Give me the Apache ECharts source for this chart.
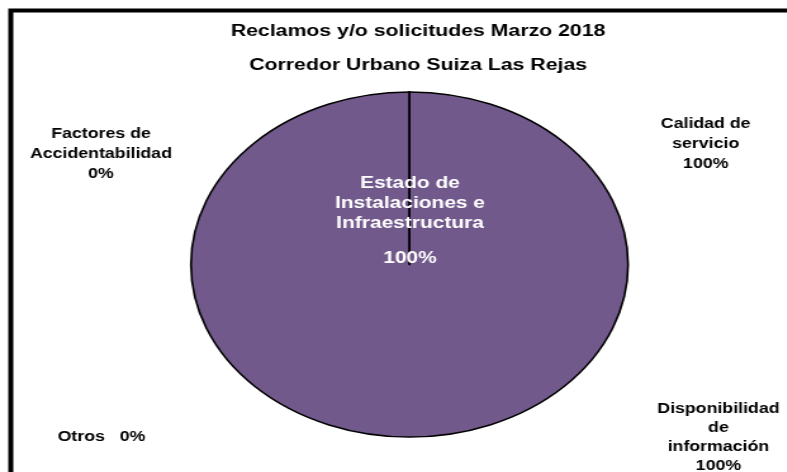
<!DOCTYPE html>
<html>
<head>
<meta charset="utf-8">
<script src="https://cdn.jsdelivr.net/npm/echarts@6/dist/echarts.min.js"></script>
<style>
  body { margin: 0; background: #fff; overflow: hidden; }
  /* the Excel picture was stretched sideways: draw it narrow, then stretch the whole chart */
  #chart { position: absolute; left: 0; top: 0; width: 622px; height: 472px;
           transform: scaleX(1.267); transform-origin: 0 0; }
</style>
</head>
<body>
<div id="chart"></div>
<script>
const titleText = 'Reclamos y/o solicitudes Marzo 2018';
const subtitleText = 'Corredor Urbano Suiza Las Rejas';
const categories = ['Calidad de servicio', 'Disponibilidad de información',
    'Estado de Instalaciones e Infraestructura', 'Factores de Accidentabilidad', 'Otros'];
const values = [0, 0, 100, 0, 0];
const pctLabels = ['100%', '100%', '100%', '0%', '0%'];
// label lines as Excel wrapped them
const labelLines = [
    ['Calidad de', 'servicio'],
    ['Disponibilidad', 'de', 'información'],
    ['Estado de', 'Instalaciones e', 'Infraestructura'],
    ['Factores de', 'Accidentabilidad'],
    ['Otros']
];
// label centres in the unstretched chart
const labelPos = [[557, 144], [567, 437.5], [323.6, 203], [79.7, 154], [80, 437]];

const font = 'Liberation Sans';

let texts = [];
categories.forEach((c, i) => {
    if (i === 2) {
        texts.push({
            type: 'text', x: labelPos[i][0], y: labelPos[i][1], z: 10,
            style: { text: labelLines[i].join('\n'), align: 'center', verticalAlign: 'middle',
                     fill: '#fff', font: 'bold 16.5px "' + font + '"', lineHeight: 20 }
        });
        texts.push({
            type: 'text', x: labelPos[i][0], y: 258, z: 10,
            style: { text: pctLabels[i], align: 'center', verticalAlign: 'middle',
                     fill: '#fff', font: 'bold 16.5px "' + font + '"' }
        });
        return;
    }
    let body = i === 4
        ? labelLines[i][0] + '   ' + pctLabels[i]
        : labelLines[i].concat([pctLabels[i]]).join('\n');
    texts.push({
        type: 'text', x: labelPos[i][0], y: labelPos[i][1], z: 10,
        style: { text: body, align: 'center', verticalAlign: 'middle', fill: '#000',
                 font: 'bold 14px "' + font + '"', lineHeight: i === 1 ? 19 : 20 }
    });
});

let chart = echarts.init(document.getElementById('chart'));
chart.setOption({
    animation: false,
    title: [
        { text: titleText, left: 325, top: 18, textAlign: 'center',
          textStyle: { fontFamily: font, fontWeight: 'bold', fontSize: 16.8, color: '#000' } },
        { text: subtitleText, left: 325, top: 52, textAlign: 'center',
          textStyle: { fontFamily: font, fontWeight: 'bold', fontSize: 16.8, color: '#000' } }
    ],
    graphic: [
        { type: 'rect', z: 10, shape: { x: 8.5, y: 10.5, width: 800, height: 600 },
          style: { fill: 'none', stroke: '#000', lineWidth: 4 } }
    ].concat(texts),
    series: [
        {
            type: 'pie',
            center: [323.2, 264.5],
            radius: 172.5,
            startAngle: 90,
            clockwise: true,
            z: 1,
            label: { show: false },
            labelLine: { show: false },
            itemStyle: { color: '#72598c', borderColor: '#000', borderWidth: 1.6 },
            data: categories.map((c, i) => ({ name: c, value: values[i] }))
        }
    ]
});
</script>
</body>
</html>
